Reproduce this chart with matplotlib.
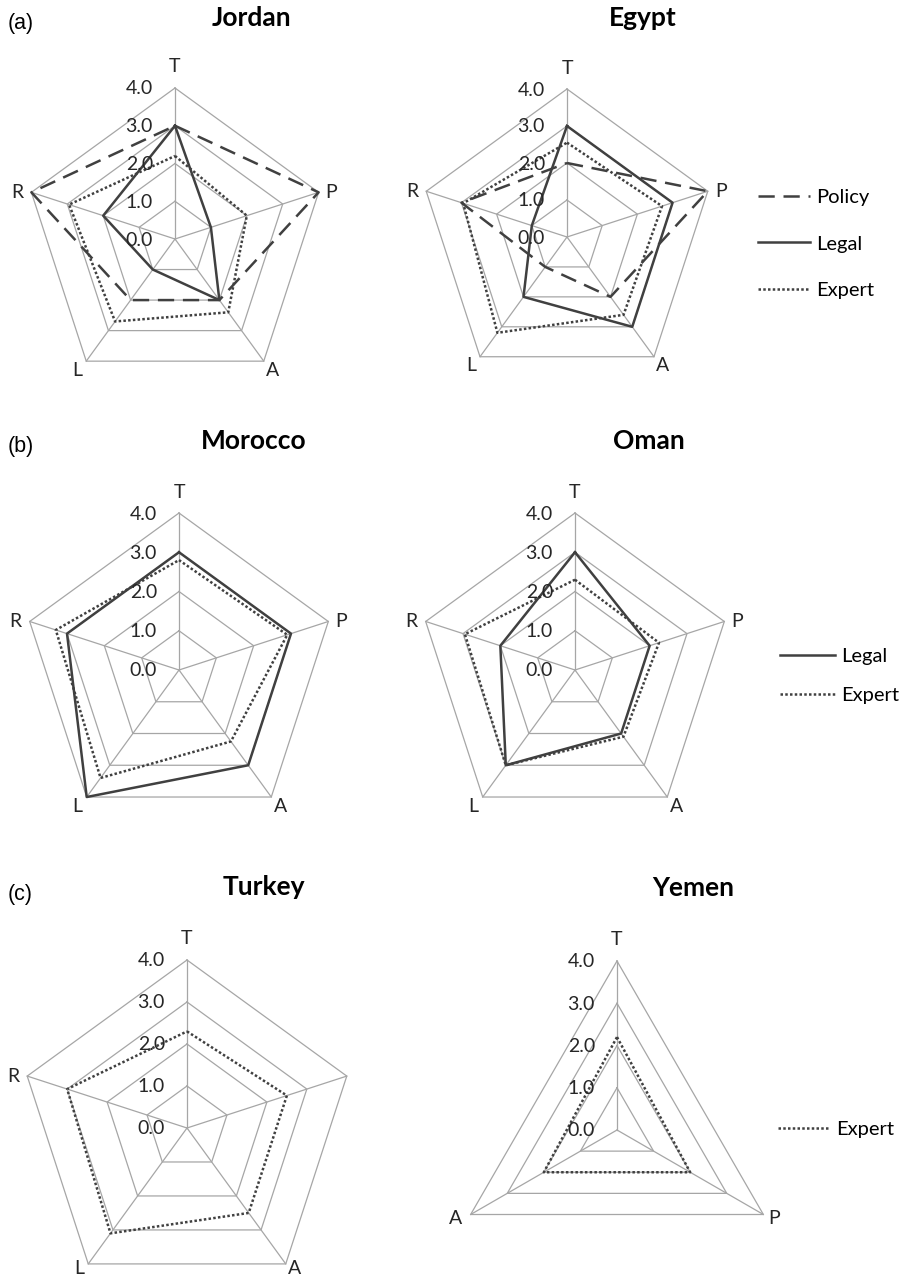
import matplotlib.pyplot as plt
import numpy as np

# Radar chart axes (clockwise from the top)
axes5 = ['T', 'P', 'A', 'L', 'R']
axes3 = ['T', 'P', 'A']
ring_values = [0.0, 1.0, 2.0, 3.0, 4.0]

# Scores per country
jordan_policy = [3.0, 4.0, 2.0, 2.0, 4.0]
jordan_legal = [3.0, 1.0, 2.0, 1.0, 2.0]
jordan_expert = [2.2, 2.0, 2.4, 2.7, 2.95]

egypt_policy = [2.0, 4.0, 2.0, 1.0, 3.0]
egypt_legal = [3.0, 3.0, 3.0, 2.0, 1.0]
egypt_expert = [2.55, 2.7, 2.6, 3.2, 2.95]

morocco_legal = [3.0, 3.0, 3.0, 4.0, 3.0]
morocco_expert = [2.8, 2.9, 2.25, 3.4, 3.3]

oman_legal = [3.0, 2.0, 2.0, 3.0, 2.0]
oman_expert = [2.3, 2.25, 2.1, 3.0, 2.95]

turkey_expert = [2.3, 2.5, 2.5, 3.1, 3.0]

yemen_expert = [2.2, 2.0, 2.0]

W, H = 912, 1278
LINE = '#404040'
GRID = '#a6a6a6'
FONT = 'Lato'

styles = {
    'Policy': dict(ls=(0, (6.5, 3.5)), lw=1.8),
    'Legal': dict(ls='-', lw=1.8),
    'Expert': dict(ls=(0, (1, 0.9)), lw=1.8),
}

# pixel offsets of the category letters from the outer vertex
label_off = {
    5: {'T': (0, 21), 'P': (13, 0), 'A': (9, -9), 'L': (-9, -9), 'R': (-14, 0)},
    3: {'T': (0, 21), 'P': (11, -4), 'A': (-15, -4)},
}

fig = plt.figure(figsize=(W / 100, H / 100), dpi=100)


def radar(cx, cy, R, cats, series, hide=(), off=None):
    ax = fig.add_axes([(cx - R) / W, 1 - (cy + R) / H, 2 * R / W, 2 * R / H],
                      projection='polar')
    ax.set_theta_offset(np.pi / 2)
    ax.set_theta_direction(-1)
    ax.set_ylim(0, 4)
    ax.grid(False)
    ax.set_xticks([])
    ax.set_yticks([])
    ax.spines['polar'].set_visible(False)
    ax.patch.set_visible(False)

    n = len(cats)
    ang = np.linspace(0, 2 * np.pi, n, endpoint=False)
    angc = np.append(ang, ang[0])
    for r in ring_values[1:]:
        ax.plot(angc, [r] * (n + 1), color=GRID, lw=0.9, clip_on=False)
    for a in ang:
        ax.plot([a, a], [0, 4], color=GRID, lw=0.9, clip_on=False)

    handles = []
    for name, vals in series:
        v = np.append(vals, vals[0])
        h, = ax.plot(angc, v, color=LINE, label=name, clip_on=False,
                     **styles[name])
        handles.append(h)

    for r in ring_values:
        ax.annotate(f'{r:.1f}', xy=(0, r), xytext=(-22, -1),
                    textcoords='offset pixels', ha='right', va='center',
                    fontsize=14, family=FONT, color='#262626',
                    annotation_clip=False)
    offs = dict(label_off[n])
    if off:
        offs.update(off)
    for a, c in zip(ang, cats):
        if c in hide:
            continue
        ax.annotate(c, xy=(a, 4), xytext=offs[c],
                    textcoords='offset pixels', ha='center', va='center',
                    fontsize=14, family=FONT, color='#262626',
                    annotation_clip=False)
    return ax, handles


def legend(ax, handles, x, y, hl, spacing):
    ax.legend(handles=handles, loc='center left',
              bbox_to_anchor=(x / W, 1 - y / H), bbox_transform=fig.transFigure,
              frameon=False, prop={'family': FONT, 'size': 14.5},
              handlelength=hl, handletextpad=0.3, labelspacing=spacing,
              borderpad=0, borderaxespad=0)


def title(x, y, s):
    fig.text(x / W, 1 - y / H, s, ha='center', va='baseline',
             fontsize=19, fontweight='bold', family=FONT)


def panel(y, s):
    fig.text(8 / W, 1 - y / H, s, ha='left', va='baseline',
             fontsize=15.5, family='Liberation Sans')


# (a)
panel(29, '(a)')
title(251, 26, 'Jordan')
title(643, 26, 'Egypt')
radar(175, 239, 151, axes5, [('Policy', jordan_policy), ('Legal', jordan_legal),
                             ('Expert', jordan_expert)])
ax, hs = radar(567, 237, 148, axes5, [('Policy', egypt_policy), ('Legal', egypt_legal),
                                      ('Expert', egypt_expert)])
legend(ax, hs, 758, 244, 2.6, 1.45)

# (b)
panel(452, '(b)')
title(254, 449, 'Morocco')
title(649, 449, 'Oman')
radar(179, 670, 157, axes5, [('Legal', morocco_legal), ('Expert', morocco_expert)])
ax, hs = radar(575, 670, 157, axes5, [('Legal', oman_legal), ('Expert', oman_expert)])
legend(ax, hs, 780, 676, 2.75, 1.05)

# (c)
panel(900, '(c)')
title(264, 895, 'Turkey')
title(693, 896, 'Yemen')
radar(187, 1128, 168, axes5, [('Expert', turkey_expert)], hide=('P',),
      off={'L': (-9, -5), 'A': (9, -5)})
ax, hs = radar(617, 1130, 169, axes3, [('Expert', yemen_expert)])
legend(ax, hs, 778, 1129, 2.6, 1.0)

fig.savefig('out.png', dpi=100, facecolor='white')
